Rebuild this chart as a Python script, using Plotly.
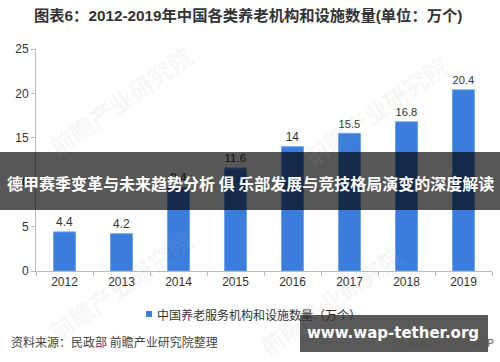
import plotly.graph_objects as go

years = ["2012", "2013", "2014", "2015", "2016", "2017", "2018", "2019"]
values = [4.4, 4.2, 9.4, 11.6, 14, 15.5, 16.8, 20.4]
labels = ["4.4", "4.2", "9.4", "11.6", "14", "15.5", "16.8", "20.4"]
y_ticks = [0, 5, 10, 15, 20, 25]

title_text = "图表6：2012-2019年中国各类养老机构和设施数量(单位：万个)"
series_name = "中国养老服务机构和设施数量（万个）"
source_text = "资料来源：民政部 前瞻产业研究院整理"
banner_text = "德甲赛季变革与未来趋势分析 俱 乐部发展与竞技格局演变的深度解读"
watermark_text = "www.wap-tether.org"
app_text = "@前瞻经济学人APP"
faint_mark = "前瞻产业研究院"

FONT = "Liberation Sans, Noto Sans CJK SC, sans-serif"
CJK = "Noto Sans CJK SC, sans-serif"

L, T, PW, PH = 36, 49, 456, 222


def px(x):
    return (x - L) / PW


def py(y):
    return (T + PH - y) / PH


fig = go.Figure()
fig.add_trace(go.Bar(
    x=years, y=values, text=labels, textposition="outside",
    textfont=dict(size=12, color="#333333", family=FONT),
    marker=dict(color="#3a7ddd", line=dict(color="#6fa3ee", width=1)),
    cliponaxis=False, name=series_name, showlegend=False,
))

fig.update_layout(
    width=500, height=362,
    margin=dict(l=L, r=500 - L - PW, t=T, b=362 - T - PH, autoexpand=False),
    paper_bgcolor="white", plot_bgcolor="white",
    bargap=0.614,
    font=dict(family=FONT, size=12, color="#333333"),
    showlegend=False,
)
fig.update_xaxes(
    type="category", tickson="boundaries", ticks="outside", ticklen=4,
    tickcolor="#bbbbbb", showline=True, linecolor="#bbbbbb", linewidth=1,
    showgrid=False, automargin=False,
    tickfont=dict(size=12, color="#333333", family=FONT),
)
fig.update_yaxes(
    range=[0, 25], tickvals=y_ticks, ticks="outside", ticklen=4,
    tickcolor="#bbbbbb", showline=True, linecolor="#bbbbbb", linewidth=1,
    showgrid=False, zeroline=False, automargin=False,
    tickfont=dict(size=12, color="#333333", family=FONT),
)

# Faint background watermarks
for cx, cy in [(120, 100), (375, 110), (120, 285), (330, 300)]:
    fig.add_annotation(xref="paper", yref="paper", x=px(cx), y=py(cy),
                       xanchor="center", yanchor="middle", text="<b>" + faint_mark + "</b>",
                       textangle=-35, showarrow=False,
                       font=dict(size=24, color="rgba(170,170,170,0.10)", family=CJK))

# Title
fig.add_annotation(xref="paper", yref="paper", x=px(32), y=py(16),
                   xanchor="left", yanchor="middle",
                   text="<b>" + title_text + "</b>", showarrow=False,
                   font=dict(size=15.3, color="#333333", family=FONT))

# Legend
fig.add_shape(type="rect", xref="paper", yref="paper",
              x0=px(146), x1=px(152), y0=py(317), y1=py(311),
              fillcolor="#3a7ddd", line=dict(width=0))
fig.add_annotation(xref="paper", yref="paper", x=px(155), y=py(314),
                   xanchor="left", yanchor="middle", text=series_name, showarrow=False,
                   font=dict(size=12, color="#333333", family=CJK))

# Source
fig.add_annotation(xref="paper", yref="paper", x=px(9), y=py(341),
                   xanchor="left", yanchor="middle", text=source_text, showarrow=False,
                   font=dict(size=12, color="#444444", family=CJK))
fig.add_annotation(xref="paper", yref="paper", x=px(496), y=py(342),
                   xanchor="right", yanchor="middle", text=app_text, showarrow=False,
                   font=dict(size=11, color="#555555", family=CJK))

# Watermark box
fig.add_shape(type="rect", xref="paper", yref="paper",
              x0=px(300), x1=px(488), y0=py(352), y1=py(315),
              fillcolor="rgba(60,60,60,0.85)", line=dict(width=0), layer="above")
fig.add_annotation(xref="paper", yref="paper", x=px(393), y=py(333),
                   xanchor="center", yanchor="middle", text="<b>" + watermark_text + "</b>",
                   showarrow=False, font=dict(size=15, color="white", family="DejaVu Sans, sans-serif"))

# Banner
fig.add_shape(type="rect", xref="paper", yref="paper",
              x0=px(0), x1=px(500), y0=py(210), y1=py(152),
              fillcolor="rgba(0,0,0,0.66)", line=dict(width=0), layer="above")
fig.add_annotation(xref="paper", yref="paper", x=px(250), y=py(183),
                   xanchor="center", yanchor="middle", text="<b>" + banner_text + "</b>",
                   showarrow=False, font=dict(size=16, color="white", family=CJK))

fig.write_html("out.html", config={"displayModeBar": False},
               post_script="document.body.style.margin='0px';")
